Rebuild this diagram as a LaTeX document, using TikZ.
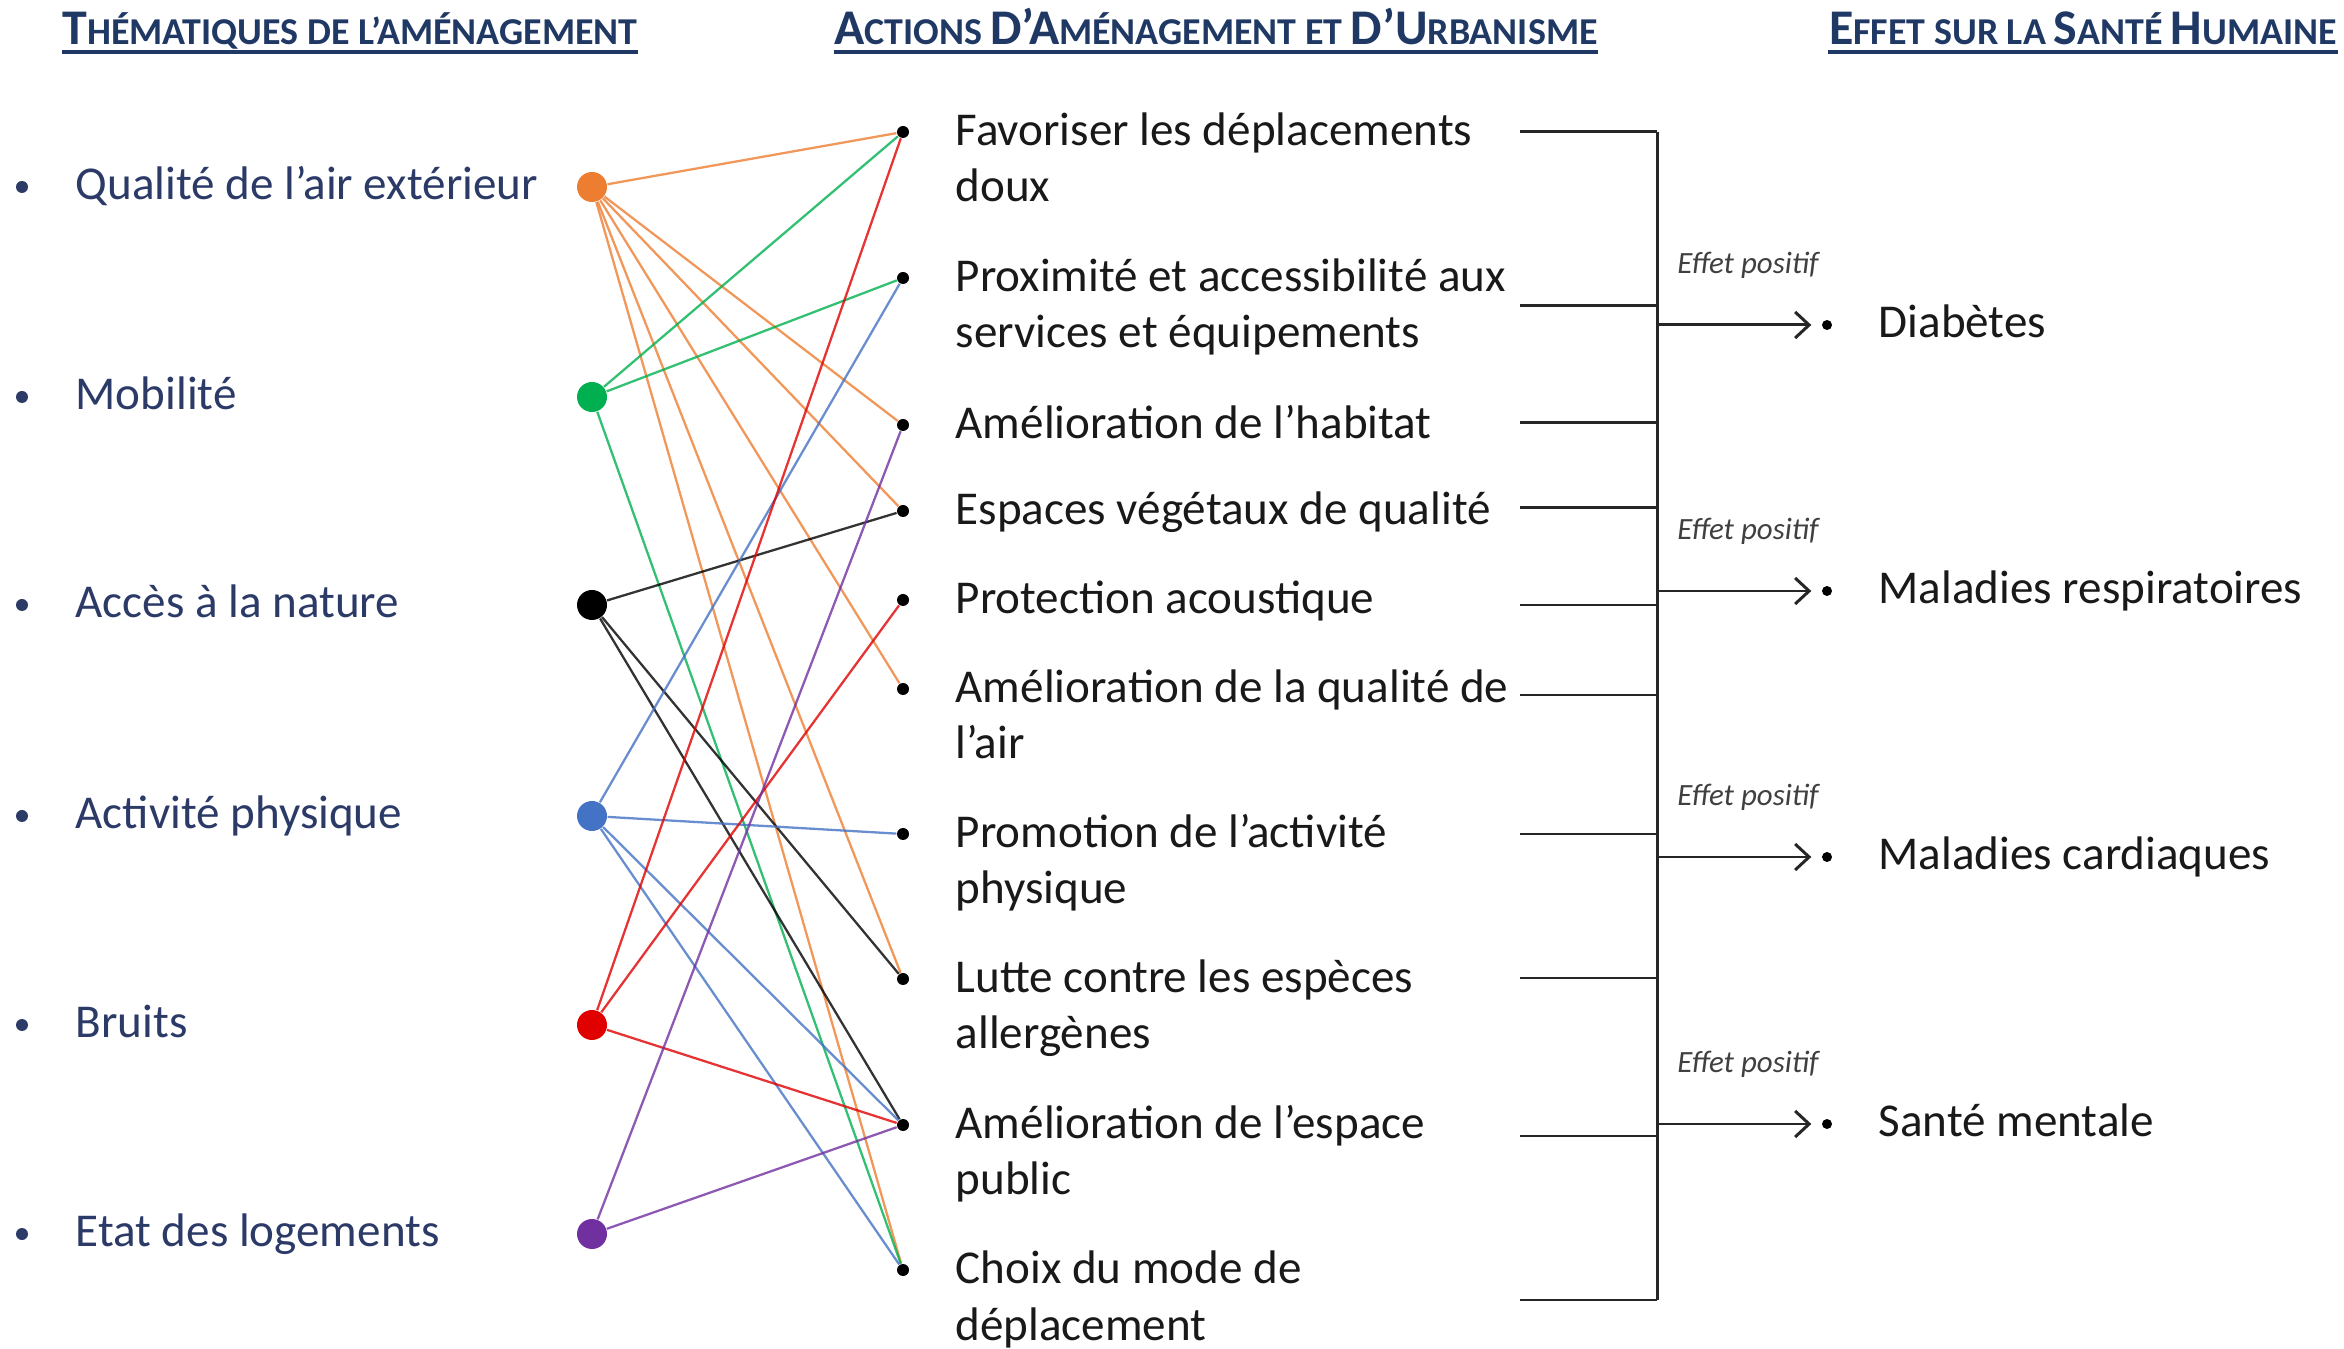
\documentclass[tikz,border=0pt]{standalone}
\usepackage{fontspec}
\setmainfont{Carlito}
\usepackage{tikz}
\usetikzlibrary{arrows.meta}
\definecolor{headblue}{HTML}{1F3864}
\definecolor{themeblue}{HTML}{2B3A67}
\definecolor{cqa}{HTML}{ED7D31}
\definecolor{cmob}{HTML}{00B050}
\definecolor{cnat}{HTML}{000000}
\definecolor{cact}{HTML}{4472C4}
\definecolor{cbru}{HTML}{E00000}
\definecolor{clog}{HTML}{7030A0}
\newcommand{\bigc}[1]{{\fontsize{14.2}{17}\selectfont #1}}
\newcommand{\smc}[1]{{\fontsize{10.8}{13}\selectfont #1}}
\newcommand{\themeitem}[4]{\node[bulletdot] (#1b) at (0.22,#2) {}; \node[themetxt] (#1t) at (0.75,#2) {#4}; \node[themedot=#3] (#1) at (5.92,#2) {};}
\newcommand{\actitem}[3]{\node[actdot] (#1) at (9.03,#2) {}; \node[acttxt] (#1t) at (9.55,#2-0.275) {#3};}
\newcommand{\linkline}[3]{\draw[link=#1] (#2) -- (#3);}
\newcommand{\bracketline}[2]{\coordinate (#1a) at (15.20,#2); \coordinate (#1j) at (16.57,#2); \draw[brace] (#1a) -- (#1j);}
\newcommand{\effitem}[3]{\node[effdot] (#1) at (18.27,#2) {}; \node[efftxt] (#1t) at (18.78,#2) {#3}; \coordinate (#1s) at (16.59,#2); \node[posnote] (#1n) at (17.48,#2-0.6) {Effet positif}; \draw[effarrow] (#1s) -- (#1);}
\tikzset{
  bulletdot/.style={circle, fill=themeblue, inner sep=0pt, minimum size=1.2mm},
  themedot/.style={circle, fill=#1, inner sep=0pt, minimum size=3mm},
  themetxt/.style={anchor=west, inner sep=0pt, text=themeblue, font=\fontsize{13.4}{16.2}\selectfont, text height=9pt, text depth=2pt},
  actdot/.style={circle, fill=black, inner sep=0pt, minimum size=1.2mm},
  acttxt/.style={anchor=north west, inner sep=0pt, align=left, text=black!90, font=\fontsize{13.4}{16.2}\selectfont},
  link/.style={line width=0.65pt, draw=#1, draw opacity=0.8},
  brace/.style={line width=0.85pt, draw=black!85},
  effdot/.style={circle, fill=black, inner sep=0pt, minimum size=1mm},
  efftxt/.style={anchor=west, inner sep=0pt, text=black!90, font=\fontsize{13.4}{16.2}\selectfont, text height=9pt, text depth=2pt},
  effarrow/.style={line width=0.85pt, draw=black!85, shorten >=1mm, -{Straight Barb[length=1.4mm,width=2.6mm]}},
  posnote/.style={inner sep=0pt, text=black!75, font=\fontsize{8.8}{10}\selectfont\itshape},
  header/.style={anchor=base, inner sep=0pt, text=headblue, font=\bfseries},
  headrule/.style={line width=1.2pt, draw=headblue},
}

\begin{document}
\begin{tikzpicture}[y=-1cm]
        \useasboundingbox (0,0) rectangle (23.44,13.49);

        % headers
        \node[header] (h1) at (3.50,0.45) {\bigc{T}\smc{HÉMATIQUES DE L’AMÉNAGEMENT}};
        \node[header] (h2) at (12.16,0.45) {\bigc{A}\smc{CTIONS} \bigc{D’A}\smc{MÉNAGEMENT ET} \bigc{D’U}\smc{RBANISME}};
        \node[header] (h3) at (20.83,0.45) {\bigc{E}\smc{FFET SUR LA} \bigc{S}\smc{ANTÉ} \bigc{H}\smc{UMAINE}};
        \draw[headrule] ([yshift=-0.7mm]h1.base west) -- ([yshift=-0.7mm]h1.base east);
        \draw[headrule] ([yshift=-0.7mm]h2.base west) -- ([yshift=-0.7mm]h2.base east);
        \draw[headrule] ([yshift=-0.7mm]h3.base west) -- ([yshift=-0.7mm]h3.base east);

        % themes
        \themeitem{qa}{1.87}{cqa}{Qualité de l’air extérieur}
        \themeitem{mob}{3.97}{cmob}{Mobilité}
        \themeitem{nat}{6.05}{cnat}{Accès à la nature}
        \themeitem{act}{8.16}{cact}{Activité physique}
        \themeitem{bru}{10.25}{cbru}{Bruits}
        \themeitem{log}{12.34}{clog}{Etat des logements}

        % actions
        \actitem{m1}{1.32}{\strut Favoriser les déplacements\\\strut doux}
        \actitem{m2}{2.78}{\strut Proximité et accessibilité aux\\\strut services et équipements}
        \actitem{m3}{4.25}{\strut Amélioration de l’habitat}
        \actitem{m4}{5.11}{\strut Espaces végétaux de qualité}
        \actitem{m5}{6.00}{\strut Protection acoustique}
        \actitem{m6}{6.89}{\strut Amélioration de la qualité de\\\strut l’air}
        \actitem{m7}{8.34}{\strut Promotion de l’activité\\\strut physique}
        \actitem{m8}{9.79}{\strut Lutte contre les espèces\\\strut allergènes}
        \actitem{m9}{11.25}{\strut Amélioration de l’espace\\\strut public}
        \actitem{m10}{12.70}{\strut Choix du mode de\\\strut déplacement}

        % links
        \linkline{cqa}{qa}{m1}
        \linkline{cqa}{qa}{m3}
        \linkline{cqa}{qa}{m4}
        \linkline{cqa}{qa}{m6}
        \linkline{cqa}{qa}{m8}
        \linkline{cqa}{qa}{m10}
        \linkline{cmob}{mob}{m1}
        \linkline{cmob}{mob}{m2}
        \linkline{cmob}{mob}{m10}
        \linkline{cnat}{nat}{m4}
        \linkline{cnat}{nat}{m8}
        \linkline{cnat}{nat}{m9}
        \linkline{cact}{act}{m2}
        \linkline{cact}{act}{m7}
        \linkline{cact}{act}{m9}
        \linkline{cact}{act}{m10}
        \linkline{cbru}{bru}{m1}
        \linkline{cbru}{bru}{m5}
        \linkline{cbru}{bru}{m9}
        \linkline{clog}{log}{m3}
        \linkline{clog}{log}{m9}

        % bracket
        \bracketline{b1}{1.32}
        \bracketline{b2}{3.06}
        \bracketline{b3}{4.23}
        \bracketline{b4}{5.08}
        \bracketline{b5}{6.05}
        \bracketline{b6}{6.95}
        \bracketline{b7}{8.34}
        \bracketline{b8}{9.78}
        \bracketline{b9}{11.36}
        \bracketline{b10}{13.00}
        \draw[brace] (b1j) -- (b10j);

        % effects
        \effitem{e1}{3.25}{Diabètes}
        \effitem{e2}{5.91}{Maladies respiratoires}
        \effitem{e3}{8.57}{Maladies cardiaques}
        \effitem{e4}{11.24}{Santé mentale}
    \end{tikzpicture}
\end{document}
